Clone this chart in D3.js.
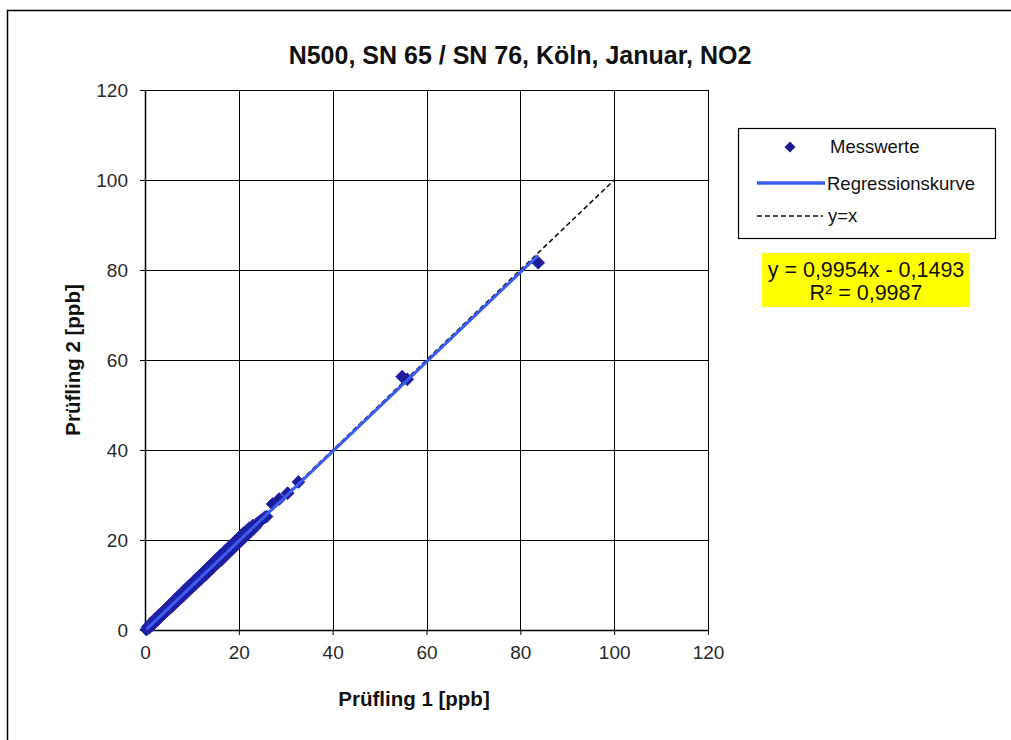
<!DOCTYPE html>
<html>
<head>
<meta charset="utf-8">
<script src="https://cdn.jsdelivr.net/npm/d3@7"></script>
<style>
  html, body { margin: 0; padding: 0; background: #fff; }
  svg { display: block; font-family: "Liberation Sans", Arial, sans-serif; }
</style>
</head>
<body>
<svg id="chart" width="1011" height="740"></svg>
<script>
// Paired NO2 readings of the two test units (ppb)
const pruefling1 = [
  0.3,0.6,0.9,1.1,1.4,1.7,2.0,2.2,2.5,2.8,
  3.1,3.3,3.6,3.9,4.2,4.5,4.7,5.0,5.3,5.6,
  5.8,6.1,6.4,6.7,6.9,7.2,7.5,7.8,8.0,8.3,
  8.6,8.9,9.1,9.4,9.7,10.0,10.2,10.5,10.8,11.1,
  11.3,11.6,11.9,12.2,12.4,12.7,13.0,13.3,13.5,13.8,
  14.1,14.4,14.6,14.9,15.2,15.5,15.7,16.0,16.3,16.6,
  16.8,17.1,17.4,17.7,17.9,18.2,18.5,18.8,19.0,19.3,
  19.6,19.9,20.1,20.4,20.7,21.0,21.3,21.6,21.9,22.2,
  22.6,23.0,23.4,23.8,24.3,24.8,25.5,25.9,
  27.2,28.6,30.4,32.7,54.8,55.9,83.8
];
const pruefling2 = [
  0.1,0.7,0.5,1.3,1.0,1.9,1.6,2.5,2.1,2.9,
  2.7,3.6,3.2,4.1,3.8,4.8,4.3,5.2,4.9,5.9,
  5.3,6.4,5.9,6.9,6.4,7.6,7.0,8.1,7.5,8.6,
  8.1,9.3,8.6,9.8,9.2,10.3,9.7,10.9,10.2,11.5,
  10.8,12.0,11.3,12.6,11.9,13.1,12.4,13.7,12.9,14.2,
  13.5,14.8,14.0,15.3,14.6,15.9,15.1,16.5,15.6,17.0,
  16.2,17.6,16.8,18.1,17.3,18.7,17.9,19.2,18.4,19.8,
  19.0,20.3,19.5,20.9,20.1,21.5,20.7,22.0,21.3,22.6,
  22.0,23.2,22.8,23.6,24.0,24.4,25.0,25.2,
  28.0,29.1,30.4,32.9,56.3,55.7,81.6
];

// Linear fit reported for the series
const slope = 0.9954;
const intercept = -0.1493;
const rSquared = 0.9987;

const axisTicks = [0, 20, 40, 60, 80, 100, 120];
const identityRange = [0, 100];

const titleText = "N500, SN 65 / SN 76, Köln, Januar, NO2";
const xTitle = "Prüfling 1 [ppb]";
const yTitle = "Prüfling 2 [ppb]";
const legendLabels = ["Messwerte", "Regressionskurve", "y=x"];

const svg = d3.select("#chart");

// outer chart frame (top and left edges)
svg.append("path")
  .attr("d", "M7.5,740 V10.5 H1011")
  .attr("fill", "none").attr("stroke", "#000").attr("stroke-width", 1.5);

const x = d3.scaleLinear().domain([0, 120]).range([145, 708]);
const y = d3.scaleLinear().domain([0, 120]).range([630, 90]);

// grid
const grid = svg.append("g").attr("stroke", "#000").attr("stroke-width", 1);
grid.selectAll("line.v").data(axisTicks.slice(1)).join("line")
  .attr("x1", d => Math.round(x(d)) + 0.5).attr("x2", d => Math.round(x(d)) + 0.5)
  .attr("y1", y(120)).attr("y2", y(0));
grid.selectAll("line.h").data(axisTicks.slice(1)).join("line")
  .attr("y1", d => Math.round(y(d)) + 0.5).attr("y2", d => Math.round(y(d)) + 0.5)
  .attr("x1", x(0)).attr("x2", x(120));

// axes
const xAxis = svg.append("g")
  .attr("transform", `translate(0,${y(0)})`)
  .call(d3.axisBottom(x).tickValues(axisTicks).tickSize(5).tickPadding(11).tickSizeOuter(0));
const yAxis = svg.append("g")
  .attr("transform", `translate(${x(0)},0)`)
  .call(d3.axisLeft(y).tickValues(axisTicks).tickSize(5).tickPadding(12).tickSizeOuter(0));
[xAxis, yAxis].forEach(g => {
  g.select(".domain").attr("stroke", "#000").attr("stroke-width", 1.5);
  g.selectAll(".tick line").attr("stroke", "#000");
  g.selectAll(".tick text")
    .attr("font-family", "'Liberation Sans', Arial, sans-serif")
    .attr("font-size", 19).attr("fill", "#2a2a2a");
});

// y = x reference line
svg.append("line")
  .attr("x1", x(identityRange[0])).attr("y1", y(identityRange[0]))
  .attr("x2", x(identityRange[1])).attr("y2", y(identityRange[1]))
  .attr("stroke", "#111").attr("stroke-width", 1.6).attr("stroke-dasharray", "5,3");

// square diamond marker centred on the origin
const diamondPath = r => `M0,${-r}L${r},0L0,${r}L${-r},0Z`;

// measured points
const points = pruefling1.map((v, i) => [v, pruefling2[i]]);
svg.append("g").selectAll("path").data(points).join("path")
  .attr("d", diamondPath(6.5))
  .attr("transform", d => `translate(${x(d[0])},${y(d[1])})`)
  .attr("fill", "#1c1c96").attr("stroke", "#2b2bc0").attr("stroke-width", 0.8);

// regression line over the measured range
const xMin = d3.min(pruefling1), xMax = d3.max(pruefling1);
svg.append("line")
  .attr("x1", x(xMin)).attr("y1", y(slope * xMin + intercept))
  .attr("x2", x(xMax)).attr("y2", y(slope * xMax + intercept))
  .attr("stroke", "#3a5cf0").attr("stroke-width", 3);

// title
svg.append("text")
  .attr("x", 520).attr("y", 64).attr("text-anchor", "middle")
  .attr("font-size", 25).attr("font-weight", "bold").attr("fill", "#111")
  .text(titleText);

// axis titles
svg.append("text")
  .attr("x", 414).attr("y", 706).attr("text-anchor", "middle")
  .attr("font-size", 20.5).attr("font-weight", "bold").attr("fill", "#111")
  .text(xTitle);
svg.append("text")
  .attr("transform", "translate(80,360) rotate(-90)").attr("text-anchor", "middle")
  .attr("font-size", 20.5).attr("font-weight", "bold").attr("fill", "#111")
  .text(yTitle);

// legend
const legend = svg.append("g");
legend.append("rect")
  .attr("x", 738.5).attr("y", 128.5).attr("width", 257).attr("height", 110)
  .attr("fill", "#fff").attr("stroke", "#000").attr("stroke-width", 1.2);
legend.append("path")
  .attr("d", diamondPath(5.5))
  .attr("transform", "translate(790,147)")
  .attr("fill", "#1c1c96");
legend.append("line")
  .attr("x1", 757).attr("x2", 825).attr("y1", 183).attr("y2", 183)
  .attr("stroke", "#3a5cf0").attr("stroke-width", 3.5);
legend.append("line")
  .attr("x1", 757).attr("x2", 823).attr("y1", 216).attr("y2", 216)
  .attr("stroke", "#111").attr("stroke-width", 1.6).attr("stroke-dasharray", "5,3");
legend.selectAll("text").data(legendLabels).join("text")
  .attr("x", (d, i) => [830, 827, 828][i])
  .attr("y", (d, i) => [153, 190, 222][i])
  .attr("font-size", 18.5).attr("fill", "#111")
  .text(d => d);

// regression equation box
const fmt = v => v.toFixed(4).replace(".", ",");
svg.append("rect")
  .attr("x", 762).attr("y", 253).attr("width", 208).attr("height", 54)
  .attr("fill", "#ffff00");
const eq = svg.append("text").attr("text-anchor", "middle")
  .attr("font-size", 21.5).attr("fill", "#111");
eq.append("tspan").attr("x", 866).attr("y", 277)
  .text(`y = ${fmt(slope)}x ${intercept < 0 ? "-" : "+"} ${fmt(Math.abs(intercept))}`);
eq.append("tspan").attr("x", 866).attr("y", 300)
  .text(`R² = ${fmt(rSquared)}`);
</script>
</body>
</html>
